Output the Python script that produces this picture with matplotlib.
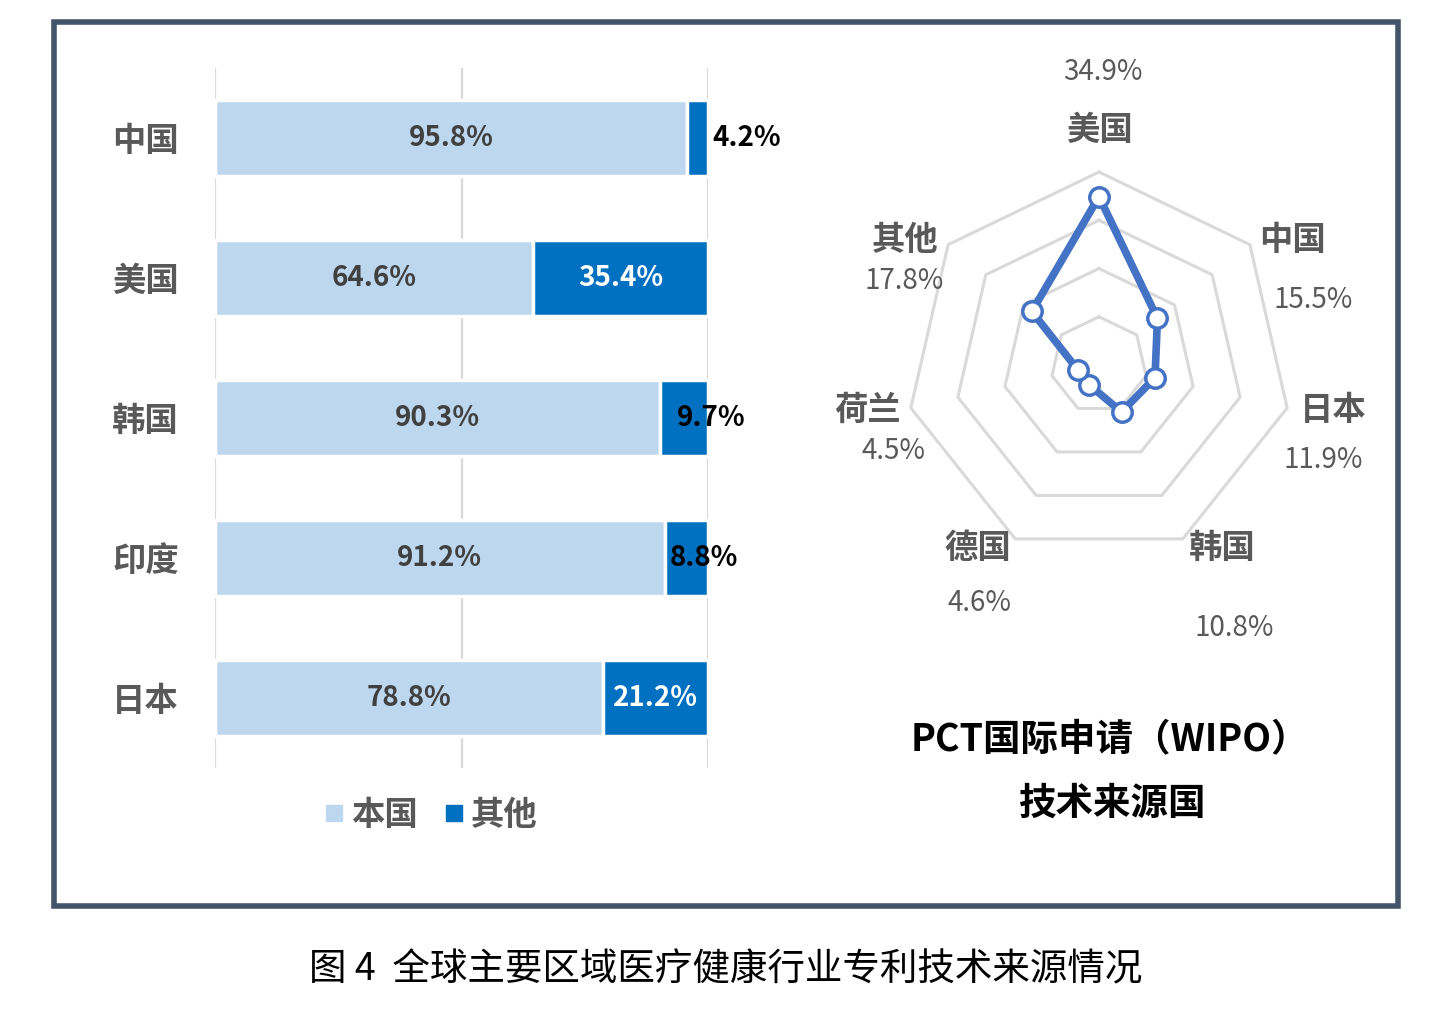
import numpy as np
import matplotlib
matplotlib.use("Agg")
import matplotlib.pyplot as plt
from matplotlib.patches import Rectangle
from matplotlib.lines import Line2D

plt.rcParams['font.family'] = ['Noto Sans CJK SC', 'DejaVu Sans']

# 左图：各国专利技术来源（本国 / 其他）
countries = ['中国', '美国', '韩国', '印度', '日本']
home_share = [95.8, 64.6, 90.3, 91.2, 78.8]
other_share = [4.2, 35.4, 9.7, 8.8, 21.2]

# 右图：PCT 国际申请技术来源国
radar_labels = ['美国', '中国', '日本', '韩国', '德国', '荷兰', '其他']
radar_values = [34.9, 15.5, 11.9, 10.8, 4.6, 4.5, 17.8]

W, H = 1432, 1013
LIGHT = '#BDD7EE'
DARK = '#0070C0'
GRAY = '#595959'
GRID = '#D9D9D9'


def px_box(x0, y0, x1, y1):
    return [x0 / W, 1 - y1 / H, (x1 - x0) / W, (y1 - y0) / H]


fig = plt.figure(figsize=(W / 100, H / 100), dpi=100)

# ---------- 堆叠条形图 ----------
ax = fig.add_axes(px_box(215, 68, 708, 768))
y = np.arange(len(countries))
ax.barh(y, home_share, height=0.545, color=LIGHT, edgecolor='white', linewidth=2.5, zorder=3)
ax.barh(y, other_share, left=home_share, height=0.545, color=DARK,
        edgecolor='white', linewidth=2.5, zorder=3)
for gx in (0, 50, 100):
    ax.axvline(gx, color=GRID, linewidth=1.6, zorder=1)
ax.set_xlim(0, 100)
ax.set_ylim(len(countries) - 0.5, -0.5)
for s in ax.spines.values():
    s.set_visible(False)
ax.set_xticks([])
ax.set_yticks(y)
ax.set_yticklabels(countries, fontsize=24, fontweight='bold', color=GRAY)
ax.tick_params(axis='y', length=0, pad=26)

for i, (h, o) in enumerate(zip(home_share, other_share)):
    ax.text(h / 2, i, f'{h:.1f}%', ha='center', va='center', fontsize=20,
            fontweight='bold', color='#404040', zorder=4)
    if o > 20:
        ax.text(h + o / 2, i, f'{o:.1f}%', ha='center', va='center', fontsize=20,
                fontweight='bold', color='white', zorder=4)
    elif o < 5:
        ax.text(100.8, i, f'{o:.1f}%', ha='left', va='center', fontsize=20,
                fontweight='bold', color='black', zorder=4)
    else:
        shift = 100.6 if o > 9 else 99.2
        ax.text(shift, i, f'{o:.1f}%', ha='center', va='center', fontsize=20,
                fontweight='bold', color='black', zorder=4)

handles = [Line2D([], [], marker='s', linestyle='', markersize=12, color=LIGHT),
           Line2D([], [], marker='s', linestyle='', markersize=12, color=DARK)]
leg = fig.legend(handles, ['本国', '其他'], loc='center', bbox_to_anchor=(431 / W, 1 - 815 / H),
                 ncol=2, frameon=False, handlelength=0.6, handletextpad=0.2,
                 columnspacing=0.8, prop={'size': 24, 'weight': 'bold'})
for t in leg.get_texts():
    t.set_color(GRAY)

# ---------- 雷达图 ----------
cx, cy = 1099, 365
scale = 4.825  # 像素 / 百分点
hw, hh = 260, 300
rax = fig.add_axes(px_box(cx - hw, cy - hh, cx + hw, cy + hh))
rax.set_xlim(-hw / scale, hw / scale)
rax.set_ylim(-hh / scale, hh / scale)
rax.axis('off')

n = len(radar_labels)
angles = np.pi / 2 - np.arange(n) * 2 * np.pi / n
for r in (10, 20, 30, 40):
    gx = np.append(r * np.cos(angles), r * np.cos(angles[0]))
    gy = np.append(r * np.sin(angles), r * np.sin(angles[0]))
    rax.plot(gx, gy, color=GRID, linewidth=2.2, zorder=1)

vals = np.array(radar_values)
px = np.append(vals * np.cos(angles), vals[0] * np.cos(angles[0]))
py = np.append(vals * np.sin(angles), vals[0] * np.sin(angles[0]))
rax.plot(px, py, color='#4472C4', linewidth=5.5, zorder=2)
rax.plot(px[:-1], py[:-1], linestyle='', marker='o', markersize=14,
         markerfacecolor='white', markeredgecolor='#4472C4', markeredgewidth=2.5, zorder=3)

# 类别标签与百分比标签位置（相对圆心的像素偏移，向下为正）
cat_pos = [(0, -235), (194, -125), (234, 45), (123, 183), (-121, 183), (-231, 45), (-194, -125)]
pct_pos = [(4, -293), (214, -65), (224, 95), (135, 263), (-119, 238), (-206, 86), (-195, -84)]
for lab, v, (lx, ly), (vx, vy) in zip(radar_labels, radar_values, cat_pos, pct_pos):
    rax.text(lx / scale, -ly / scale, lab, ha='center', va='center', fontsize=24,
             fontweight='bold', color=GRAY, clip_on=False)
    rax.text(vx / scale, -vy / scale, f'{v:.1f}%', ha='center', va='center',
             fontsize=20, color=GRAY, clip_on=False)

fig.text(1110 / W, 1 - 740 / H, 'PCT国际申请（WIPO）', ha='center', va='center',
         fontsize=27, fontweight='bold', color='black')
fig.text(1113 / W, 1 - 803 / H, '技术来源国', ha='center', va='center',
         fontsize=27, fontweight='bold', color='black')

# 外框与图题
fig.patches.append(Rectangle((54 / W, 1 - 906 / H), (1398 - 54) / W, (906 - 22) / H,
                             transform=fig.transFigure, fill=False,
                             edgecolor='#44546A', linewidth=4))
fig.text(726 / W, 1 - 970 / H, '图 4  全球主要区域医疗健康行业专利技术来源情况',
         ha='center', va='center', fontsize=27, color='black')

fig.savefig('out.png', dpi=100)
